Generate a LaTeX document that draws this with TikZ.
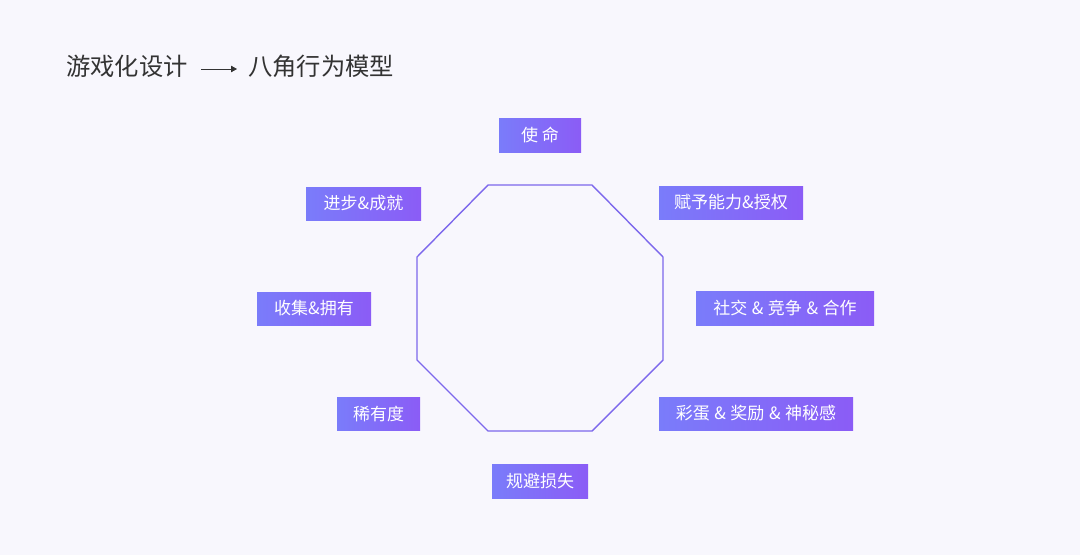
\documentclass[tikz,border=0pt]{standalone}
\usepackage{fontspec}
\setmainfont{Noto Sans CJK SC}
\newfontfamily\cjk{Noto Sans CJK SC}
\usetikzlibrary{arrows.meta}
\definecolor{bgc}{RGB}{248,247,253}
\definecolor{boxl}{RGB}{122,124,250}
\definecolor{boxr}{RGB}{139,92,246}
\definecolor{octc}{RGB}{125,104,236}
\definecolor{titlec}{RGB}{51,51,51}
\newcommand{\amp}{\hspace{4.5pt}\&\hspace{4.5pt}}
\tikzset{
  tag/.style={rectangle, inner sep=0pt, outer sep=0pt, left color=boxl, right color=boxr,
    text=white, font=\cjk\fontsize{17}{17}\selectfont, anchor=north west},
  titletext/.style={text=titlec, font=\cjk\fontsize{24.3}{25}\selectfont, inner sep=0pt, anchor=west},
}
\begin{document}
\begin{tikzpicture}[x=1pt,y=-1pt]
\fill[bgc] (0,0) rectangle (1080,555);
\useasboundingbox (0,0) rectangle (1080,555);
% title
\node[titletext] (t1) at (66,66) {游戏化设计};
\node[titletext] (t2) at (248,66) {八角行为模型};
\coordinate (a1) at (201,69);
\coordinate (a2) at (237,69);
\draw[titlec, line width=0.9pt, -{Triangle[length=6pt,width=6.5pt]}] (a1) -- (a2);
% octagon
\draw[octc, line width=1.4pt, line join=miter]
  (488,185) -- (592,185) -- (663,257) -- (663,360) -- (592,431) -- (488,431) -- (417,360) -- (417,257) -- cycle;
% tags
\node[tag, minimum width=82pt, minimum height=34pt] (b1) at (499,118) {使\hspace{4pt}命};
\node[tag, minimum width=144pt, minimum height=33pt] (b2) at (659,186) {赋予能力\&授权};
\node[tag, minimum width=178pt, minimum height=34pt] (b3) at (696,291) {社交\amp 竞争\amp 合作};
\node[tag, minimum width=194pt, minimum height=33pt] (b4) at (659,397) {彩蛋\amp 奖励\amp 神秘感};
\node[tag, minimum width=96pt, minimum height=34pt] (b5) at (492,464) {规避损失};
\node[tag, minimum width=83pt, minimum height=33pt] (b6) at (337,397) {稀有度};
\node[tag, minimum width=114pt, minimum height=33pt] (b7) at (257,292) {收集\&拥有};
\node[tag, minimum width=115pt, minimum height=33pt] (b8) at (306,187) {进步\&成就};
\end{tikzpicture}
\end{document}
